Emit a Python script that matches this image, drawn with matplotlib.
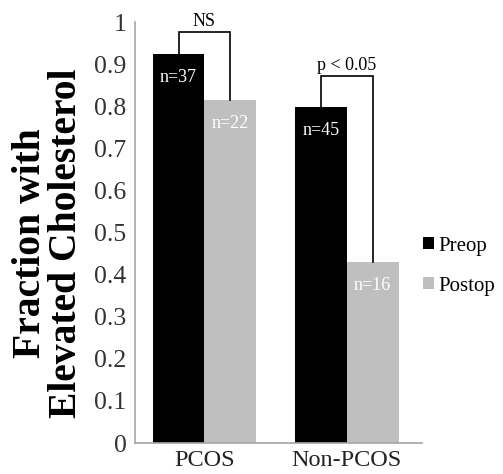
import numpy as np
import matplotlib
matplotlib.use('Agg')
from matplotlib import pyplot as plt

categories = ['PCOS', 'Non-PCOS']
preop = [0.924, 0.798]
postop = [0.815, 0.43]
preop_n = ['n=37', 'n=45']
postop_n = ['n=22', 'n=16']
sig_labels = ['NS', 'p < 0.05']
bracket_tops = [0.976, 0.872]
yticks = [0, 0.1, 0.2, 0.3, 0.4, 0.5, 0.6, 0.7, 0.8, 0.9, 1]

plt.rcParams['font.family'] = ['Liberation Serif', 'DejaVu Serif']

fig = plt.figure(figsize=(5.03, 4.74), dpi=100)
ax = fig.add_axes([0.268, 0.0654, 0.571, 0.888])

x = np.arange(len(categories))
w = 0.365
ax.bar(x - w/2, preop, w, color='black', label='Preop')
ax.bar(x + w/2, postop, w, color='#bfbfbf', label='Postop')

for i in range(len(categories)):
    ax.text(x[i] - w/2, preop[i] - 0.055, preop_n[i], color='white',
            ha='center', va='center', fontsize=13)
    ax.text(x[i] + w/2, postop[i] - 0.055, postop_n[i], color='white',
            ha='center', va='center', fontsize=13)
    # significance bracket
    ax.plot([x[i] - w/2, x[i] - w/2, x[i] + w/2, x[i] + w/2],
            [preop[i], bracket_tops[i], bracket_tops[i], postop[i]],
            color='black', lw=1.2, solid_joinstyle='miter')
    ax.text(x[i], bracket_tops[i] + 0.005, sig_labels[i],
            ha='center', va='bottom', fontsize=13)

ax.set_xlim(-0.49, 1.53)
ax.set_ylim(0, 1)
ax.set_yticks(yticks)
ax.set_yticklabels([('%g' % t) for t in yticks])
ax.set_xticks(x)
ax.set_xticklabels(categories)
ax.tick_params(axis='y', length=0, labelsize=18.5, pad=6, colors='#333333')
ax.tick_params(axis='x', length=0, labelsize=17.5, pad=5, colors='#222222')
for s in ['top', 'right']:
    ax.spines[s].set_visible(False)
for s in ['left', 'bottom']:
    ax.spines[s].set_color('#a6a6a6')
    ax.spines[s].set_linewidth(1.2)

fig.text(0.097, 0.487, 'Fraction with\nElevated Cholesterol', rotation=90,
         ha='center', va='center', fontsize=28.5, fontweight='bold',
         linespacing=0.95)

ax.legend(loc='center left', bbox_to_anchor=(1.005, 0.42), frameon=False,
          borderaxespad=0, borderpad=0,
          fontsize=15, handlelength=0.5, handleheight=0.5,
          handletextpad=0.2, labelspacing=1.0)

fig.savefig('out.png', dpi=100)
